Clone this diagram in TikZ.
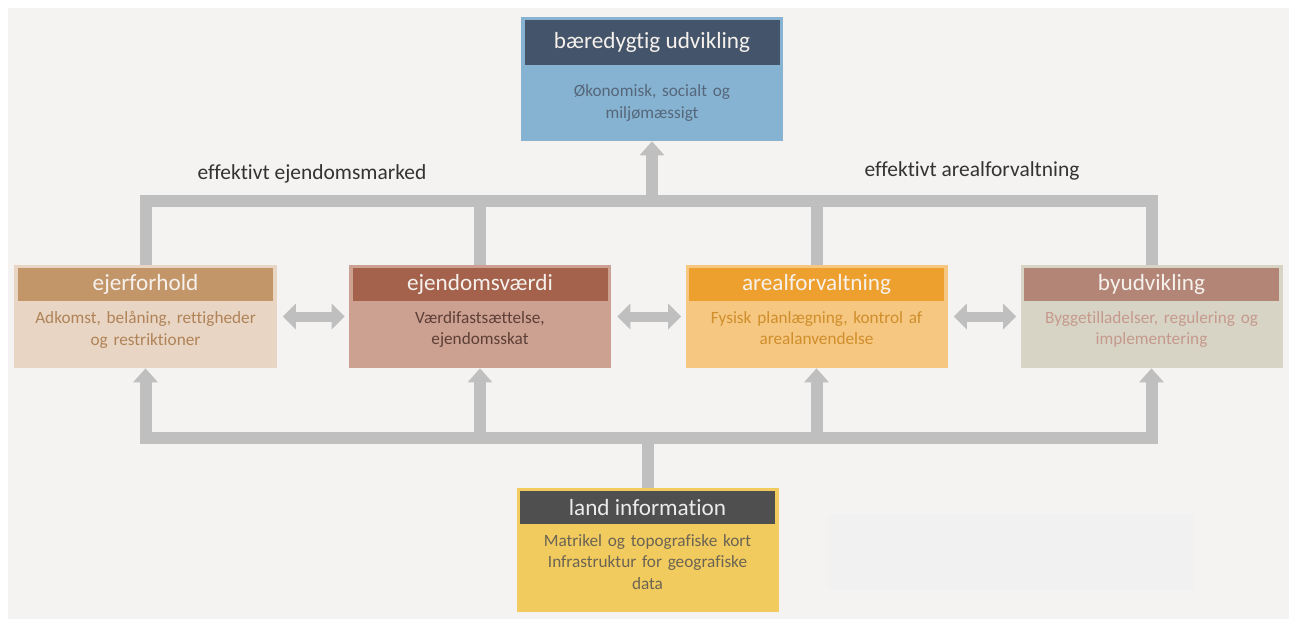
\documentclass[tikz,border=0pt]{standalone}
\usepackage{fontspec}
\setmainfont{Carlito}[Ligatures=NoCommon]
\usetikzlibrary{positioning,arrows.meta}

\definecolor{pagebg}{HTML}{F4F3F1}
\definecolor{linkgray}{HTML}{BFBFBF}
\definecolor{headtext}{HTML}{F6F1EC}
\definecolor{susthead}{HTML}{44546A}
\definecolor{sustfill}{HTML}{86B3D1}
\definecolor{sustink}{HTML}{56677B}
\definecolor{ejerhead}{HTML}{C3966A}
\definecolor{ejerfill}{HTML}{E8D5C3}
\definecolor{ejerink}{HTML}{B08358}
\definecolor{vaerdihead}{HTML}{A4624C}
\definecolor{vaerdifill}{HTML}{CCA191}
\definecolor{vaerdiink}{HTML}{5D3F36}
\definecolor{arealhead}{HTML}{EEA02E}
\definecolor{arealfill}{HTML}{F5C780}
\definecolor{arealink}{HTML}{D08E2C}
\definecolor{byhead}{HTML}{B28576}
\definecolor{byfill}{HTML}{D8D4C5}
\definecolor{byink}{HTML}{C59A8D}
\definecolor{landhead}{HTML}{4F4F4F}
\definecolor{landfill}{HTML}{F2CB5E}
\definecolor{landink}{HTML}{6B6454}
\definecolor{emptyfill}{HTML}{F1F1F1}

\begin{document}
\begin{tikzpicture}[x=0.2mm,y=-0.2mm,
  panel/.style={rectangle,inner sep=0pt,minimum width=52.4mm,minimum height=20.6mm},
  header/.style={rectangle,inner sep=0pt,minimum width=51mm,minimum height=6.6mm,
    text=headtext,font=\fontsize{13.2}{15}\selectfont},
  body/.style={align=center,text width=51mm,inner sep=0pt,font=\fontsize{9.8}{12.4}\selectfont},
  link/.style={draw=linkgray,line width=2.4mm},
  uparrow/.style={link,-{Triangle[width=4.8mm,length=2.8mm]}},
  twoway/.style={draw=linkgray,line width=2mm,
    {Triangle[width=5mm,length=2.6mm]}-{Triangle[width=5mm,length=2.6mm]}},
  caption/.style={text=black!80,font=\fontsize{12.2}{14}\selectfont}]

  % page
  \useasboundingbox (0,0) rectangle (1296,624);
  \fill[white] (0,0) rectangle (1296,624);
  \fill[pagebg] (8,8) rectangle (1289,619);
  \fill[emptyfill] (828,514) rectangle (1194,590);

  % goal
  \node[panel,minimum height=24.8mm,fill=sustfill] (sustain) at (652,79) {};
  \node[header,fill=susthead,minimum height=9mm,below=0.6mm of sustain.north] (sustainHead) {bæredygtig udvikling};
  \node[body,text=sustink,below=3.8mm of sustainHead] (sustainText) {Økonomisk, socialt og\\miljømæssigt};

  % four functions
  \node[panel,fill=ejerfill] (ejer) at (145.5,316.5) {};
  \node[header,fill=ejerhead,below=0.6mm of ejer.north] (ejerHead) {ejerforhold};
  \node[body,text=ejerink,below=1.9mm of ejerHead] (ejerText) {Adkomst, belåning, rettigheder\\og restriktioner};

  \node[panel,fill=vaerdifill] (vaerdi) at (480,316.5) {};
  \node[header,fill=vaerdihead,below=0.6mm of vaerdi.north] (vaerdiHead) {ejendomsværdi};
  \node[body,text=vaerdiink,below=1.9mm of vaerdiHead] (vaerdiText) {Værdifastsættelse,\\ejendomsskat};

  \node[panel,fill=arealfill] (areal) at (816.5,316.5) {};
  \node[header,fill=arealhead,below=0.6mm of areal.north] (arealHead) {arealforvaltning};
  \node[body,text=arealink,below=1.9mm of arealHead] (arealText) {Fysisk planlægning, kontrol af\\arealanvendelse};

  \node[panel,fill=byfill] (byud) at (1151.5,316.5) {};
  \node[header,fill=byhead,below=0.6mm of byud.north] (byudHead) {byudvikling};
  \node[body,text=byink,below=1.9mm of byudHead] (byudText) {Byggetilladelser, regulering og\\implementering};

  % base
  \node[panel,minimum height=24.8mm,fill=landfill] (land) at (647.5,550) {};
  \node[header,fill=landhead,text=black!8,below=0.6mm of land.north] (landHead) {land information};
  \node[body,text=landink,below=1.9mm of landHead] (landText) {Matrikel og topografiske kort\\Infrastruktur for geografiske\\data};

  % captions
  \node[caption] (marketLabel) at (312,174) {effektivt ejendomsmarked};
  \node[caption] (landLabel) at (972,171) {effektivt arealforvaltning};

  % upper bracket
  \coordinate (topbar) at (652,201);
  \draw[link] (ejer.north) |- (topbar) -| (byud.north);
  \draw[link] (vaerdi.north) -- (vaerdi.north |- topbar);
  \draw[link] (areal.north) -- (areal.north |- topbar);
  \draw[uparrow] (topbar) -- (sustain.south);

  % lower bracket
  \coordinate (botbar) at (647.5,438);
  \draw[link] (land.north) -- (botbar);
  \draw[uparrow] (botbar) -| (ejer.south);
  \draw[uparrow] (botbar) -| (vaerdi.south);
  \draw[uparrow] (botbar) -| (areal.south);
  \draw[uparrow] (botbar) -| (byud.south);

  % side links
  \draw[twoway] ([xshift=1.2mm]ejer.east) -- ([xshift=-0.8mm]vaerdi.west);
  \draw[twoway] ([xshift=1.2mm]vaerdi.east) -- ([xshift=-0.8mm]areal.west);
  \draw[twoway] ([xshift=1.2mm]areal.east) -- ([xshift=-0.8mm]byud.west);
\end{tikzpicture}
\end{document}
